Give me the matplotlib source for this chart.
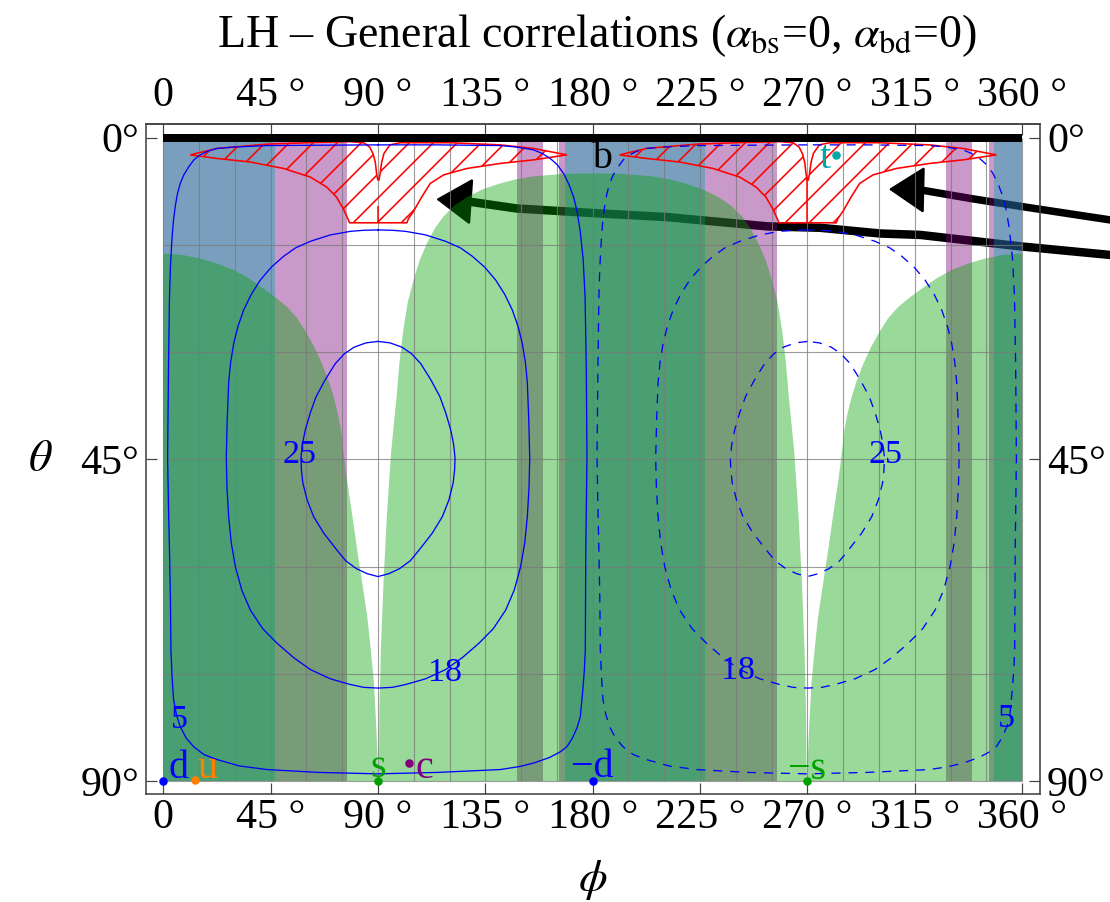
import matplotlib
matplotlib.use("Agg")
import matplotlib.pyplot as plt

plt.rcParams["font.family"] = ["Liberation Serif", "DejaVu Serif"]
plt.rcParams["mathtext.fontset"] = "stix"
plt.rcParams["hatch.linewidth"] = 1.6

# ---------------------------------------------------------------
# values (phi, theta in degrees)
# ---------------------------------------------------------------
phi_ticks = [0, 45, 90, 135, 180, 225, 270, 315, 360]
phi_tick_labels = ["0", "45 °", "90 °", "135 °", "180 °", "225 °", "270 °", "315 °", "360 °"]
theta_ticks = [0, 45, 90]
theta_tick_labels = ["0°", "45°", "90°"]

blue_bands = [(0, 46.9), (168.3, 226.9), (348.3, 360)]
purple_bands = [(46.9, 77.2), (148.2, 159.2), (166.0, 168.3),
                (226.9, 257.2), (328.2, 339.2), (346.0, 348.3)]

# green region: boundary for phi in [0, 180]; mirrored for [180, 360]
green_phi = [0, 8.0, 15.5, 22.5, 29.5, 35.5, 40.7, 46.9, 52.0, 56.0, 59.5, 63.2,
             66.5, 69.2, 71.4, 73.2, 74.5, 75.2, 76.2, 77.2, 79.3, 81.3, 83.4,
             85.5, 87.0, 88.3, 89.2, 90.0, 90.2,
             90.4, 90.6, 91.2, 92.3, 93.7, 95.5, 97.8, 99.0, 100.6, 102.5, 104.9,
             107.5, 110.5, 113.8, 117.5, 122.0, 127.3, 134.0, 141.2, 148.0, 155.2,
             168.0, 180.0]
green_theta = [16.2, 16.4, 16.9, 17.6, 18.5, 19.6, 20.8, 22.3, 23.7, 25.2, 27.0, 29.2,
               31.6, 33.9, 36.2, 38.6, 40.9, 43.0, 45.8, 48.3, 53.0, 57.7, 62.3,
               67.0, 71.7, 76.3, 82.0, 88.0, 90.0,
               88.0, 80.0, 71.7, 62.3, 53.0, 44.0, 36.2, 31.5, 26.9, 23.0, 19.9,
               17.1, 14.8, 12.7, 11.0, 9.5, 8.3, 7.2, 6.4, 5.8, 5.4,
               5.05, 5.0]

# contour lines (left half of the 25 and 18 loops, mirrored about phi = 90)
c25_phi = [90, 85.0, 80.0, 76.0, 72.1, 67.8, 64.1, 61.6, 59.5, 58.3, 57.7, 57.9,
           58.5, 60.3, 63.0, 67.2, 72.8, 76.5, 81.0, 85.5, 90]
c25_theta = [28.5, 28.7, 29.3, 30.2, 31.6, 33.9, 36.2, 38.5, 40.9, 42.9, 44.8, 46.5,
             48.3, 50.7, 53.0, 55.3, 57.7, 59.2, 60.3, 61.0, 61.4]
c18_phi = [90, 84.0, 78.4, 70.0, 61.6, 55.5, 50.4, 45.3, 40.7, 36.9, 33.7, 31.3,
           29.5, 28.2, 27.4, 26.8, 26.4, 26.7, 27.4, 28.5, 30.2, 32.9, 36.5, 41.7,
           47.6, 54.5, 61.6, 70.0, 78.4, 84.0, 90]
c18_theta = [12.9, 12.95, 13.1, 13.6, 14.5, 15.4, 16.6, 18.1, 19.9, 21.9, 24.1, 26.4,
             28.8, 31.5, 34.3, 39.5, 44.8, 49.0, 53.0, 56.7, 60.0, 63.3, 66.1, 68.7,
             70.7, 72.7, 74.4, 75.7, 76.5, 76.9, 77.0]
c5_phi = [90, 65.0, 43.5, 30.0, 22.5, 18.5, 15.5, 12.8, 10.6, 8.6, 7.1, 5.9, 5.0,
          4.2, 3.6, 3.0, 2.6, 2.2, 1.8, 2.2, 2.6, 3.0, 3.2, 3.7, 4.3, 5.5, 7.1,
          9.6, 12.7, 17.0, 22.5, 32.0, 43.5, 65.0, 90,
          115.0, 141.2, 149.0, 155.2, 162.0, 166.5, 169.2, 171.5, 173.5, 174.8,
          175.8, 176.5, 176.9, 177.1, 177.6, 177.3, 176.8, 176.0, 174.7, 173.5,
          172.0, 170.0, 167.8, 165.2, 162.2, 158.8, 155.2, 148.0, 141.2, 115.0, 90]
c5_theta = [1.0, 1.05, 1.1, 1.3, 1.5, 1.9, 2.4, 3.1, 4.1, 5.2, 6.4, 7.9, 9.6,
            11.8, 14.3, 18.0, 22.2, 31.6, 44.8, 52.0, 57.7, 65.0, 71.7, 75.5, 78.6,
            80.7, 82.4, 84.0, 85.2, 86.3, 87.0, 87.9, 88.4, 88.8, 89.0,
            88.8, 88.4, 88.0, 87.5, 86.7, 85.9, 85.2, 84.0, 82.5, 81.0,
            77.5, 74.5, 71.7, 57.7, 44.8, 32.0, 22.2, 17.0, 12.9, 10.4,
            8.3, 6.5, 5.0, 3.8, 2.9, 2.2, 1.7, 1.3, 1.1, 1.0, 1.0]
contour_labels = ["25", "18", "5", "25", "18", "5"]
contour_label_phi = [57.2, 118.2, 6.8, 302.6, 240.8, 353.3]
contour_label_theta = [44.3, 74.8, 81.5, 44.3, 74.6, 81.3]
dashed_shift = 180

# red hatched region around phi = 90 (the second one sits at phi + 180)
hatch_phi = [11.3, 22.5, 43.5, 64.4, 78.4, 84.0, 86.5, 88.0, 88.9, 89.4, 89.9, 90.4,
             90.9, 91.5, 92.5, 95.0, 99.3, 120.2, 141.2, 155.2, 169.2,
             155.2, 141.2, 127.3, 117.5, 111.9, 108.3, 104.9, 102.8, 102.1,
             78.1, 76.9, 75.4, 72.6, 68.5, 61.6, 50.4, 36.5, 22.5, 11.3]
hatch_theta = [2.4, 1.5, 0.9, 0.65, 0.55, 0.7, 1.3, 2.3, 3.5, 5.0, 5.9, 5.9,
               5.0, 3.5, 2.2, 1.0, 0.7, 0.7, 1.0, 1.5, 2.4,
               3.1, 3.6, 4.3, 5.2, 6.4, 8.3, 10.3, 11.3, 11.9,
               11.9, 11.0, 9.9, 8.3, 6.9, 5.5, 4.3, 3.4, 2.9, 2.4]
hatch_split = [(90, 9.6, 11.9), (270, 5.5, 11.9)]

# arrows (drawn from beyond the right edge)
arrow1_phi = [396.9, 359.3, 338.4, 317.4]
arrow1_theta = [11.5, 9.6, 8.5, 7.3]
arrow1_tip = (304.1, 7.2)
arrow2_phi = [396.9, 359.3, 317.4, 300.5, 275.4, 253.1, 211.1, 183.2, 148.2, 127.3]
arrow2_theta = [16.4, 15.2, 13.6, 13.4, 12.6, 12.4, 11.1, 10.6, 9.9, 8.9]
arrow2_tip = (114.4, 8.6)

# labelled points
pt_names = ["d", "u", "s", "c", "−d", "−s", "b", "t"]
pt_phi = [0, 13.1, 90, 103.2, 180, 270, 180, 282.1]
pt_theta = [90, 89.9, 90, 87.5, 90, 90, 0, 2.4]
pt_colors = ["#0000ff", "#ff8000", "#00a000", "#800080", "#0000ff", "#00a000",
             "black", "#00a8a8"]
# label offsets in points and horizontal alignment
pt_offsets = [(5, 3, "left"), (3, 2, "left"), (0, 4, "center"), (6, -15, "left"),
              (0, 4, "center"), (0, 2, "center"), (-1, -30, "left"), (-6, -13, "right")]

title = r"LH – General correlations ($\alpha_{\rm bs}$=0, $\alpha_{\rm bd}$=0)"

# ---------------------------------------------------------------
W, H = 1110, 902
fig = plt.figure(figsize=(W / 72, H / 72), dpi=72)
ax = fig.add_axes([146 / W, 108 / H, 894 / W, 670 / H])
ax.set_xlim(-7.25, 367.5)
ax.set_ylim(91.82, -1.92)

# arrows underneath the shading
ax.plot(arrow1_phi, arrow1_theta, color="black", lw=7.5, solid_capstyle="round",
        solid_joinstyle="round", clip_on=False, zorder=1)
ax.plot(arrow2_phi, arrow2_theta, color="black", lw=8.5, solid_capstyle="round",
        solid_joinstyle="round", clip_on=False, zorder=1)
for base_phi, base_theta, tip in [(arrow1_phi[-1], arrow1_theta[-1], arrow1_tip),
                                  (arrow2_phi[-1], arrow2_theta[-1], arrow2_tip)]:
    ax.annotate("", xy=tip, xytext=(base_phi, base_theta), annotation_clip=False,
                arrowprops=dict(arrowstyle="-|>,head_length=1.6,head_width=1.05",
                                mutation_scale=20, color="black", lw=2.5,
                                shrinkA=0, shrinkB=0, joinstyle="round"),
                zorder=1)

# vertical bands
for lo, hi in blue_bands:
    ax.fill_between([lo, hi], 0, 90, color="#215f94", alpha=0.6, lw=0, zorder=2)
for lo, hi in purple_bands:
    ax.fill_between([lo, hi], 0, 90, color="#780078", alpha=0.4, lw=0, zorder=2)

# green region
g_phi = green_phi + [360 - p for p in green_phi[::-1]]
g_theta = green_theta + green_theta[::-1]
ax.fill(g_phi + [360, 0], g_theta + [90, 90], color="#00a000", alpha=0.4, lw=0, zorder=3)

# grid
ax.vlines(range(0, 361, 15), 0, 90, color="#7a7a7a", lw=1.1, alpha=0.75, zorder=4)
ax.hlines(range(0, 91, 15), 0, 360, color="#7a7a7a", lw=1.1, alpha=0.75, zorder=4)

# red hatched regions
for shift in (0, 180):
    ax.fill([p + shift for p in hatch_phi], hatch_theta, facecolor="none",
            edgecolor="red", hatch="/", lw=1.6, zorder=5)
for p, t0, t1 in hatch_split:
    ax.vlines(p, t0, t1, color="red", lw=1.5, zorder=5)

# contours
loops = [(c25_phi + [180 - p for p in c25_phi[::-1]], c25_theta + c25_theta[::-1]),
         (c18_phi + [180 - p for p in c18_phi[::-1]], c18_theta + c18_theta[::-1]),
         (c5_phi, c5_theta)]
for lp, lt in loops:
    ax.plot(lp, lt, color="#0000ff", lw=1.3, zorder=6, solid_joinstyle="round")
    ax.plot([p + dashed_shift for p in lp], lt, color="#0000ff", lw=1.3,
            ls=(0, (7, 6)), zorder=6)
for lab, p, t in zip(contour_labels, contour_label_phi, contour_label_theta):
    ax.text(p, t, lab, color="#0000ff", fontsize=34, ha="center", va="center", zorder=6)

# points (the b point sits under the theta = 0 line)
for name, p, t, col, (dx, dy, ha) in zip(pt_names, pt_phi, pt_theta, pt_colors, pt_offsets):
    ax.plot(p, t, "o", color=col, ms=8.5, mew=0, clip_on=False,
            zorder=6.5 if t == 0 else 8)
    ax.annotate(name, (p, t), xytext=(dx, dy), textcoords="offset points",
                color=col, fontsize=40, ha=ha, va="baseline", zorder=8,
                annotation_clip=False)

# top line at theta = 0
ax.hlines(0, 0, 360, color="black", lw=8, zorder=7)

# axes, ticks and labels
for s in ax.spines.values():
    s.set_color("#444444")
    s.set_linewidth(1.6)
ax.set_xticks(phi_ticks, phi_tick_labels)
ax.set_yticks(theta_ticks, theta_tick_labels)
ax.tick_params(axis="both", direction="in", length=11, width=1.2, color="#444444",
               labelsize=42)
ax.tick_params(axis="x", pad=5)
ax.tick_params(axis="y", left=True, right=True, labelright=True, pad=7)
top = ax.secondary_xaxis("top")
top.set_xticks(phi_ticks, phi_tick_labels)
top.tick_params(direction="in", length=11, width=1.2, color="#444444", labelsize=42, pad=9)
top.spines["top"].set_color("#444444")
top.spines["top"].set_linewidth(1.6)

ax.text(-0.1186, 0.4985, r"$\theta$", transform=ax.transAxes, fontsize=46,
        ha="center", va="center")
ax.text(0.5, -0.128, r"$\phi$", transform=ax.transAxes, fontsize=46,
        ha="center", va="center")
fig.text(597.5 / W, 1 - 36 / H, title, ha="center", va="center", fontsize=46)

fig.savefig("out.png", dpi=72)
